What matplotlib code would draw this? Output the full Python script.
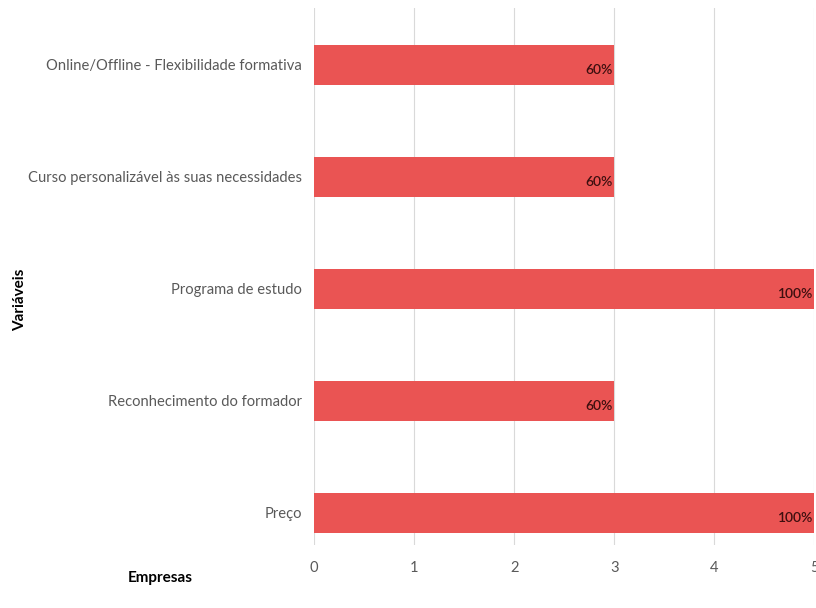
import matplotlib
matplotlib.use("Agg")
import matplotlib.pyplot as plt

categories = ["Preço", "Reconhecimento do formador", "Programa de estudo",
              "Curso personalizável às suas necessidades",
              "Online/Offline - Flexibilidade formativa"]
values = [5, 3, 5, 3, 3]
labels = ["100%", "60%", "100%", "60%", "60%"]
xticks = [0, 1, 2, 3, 4, 5]

plt.rcParams['font.family'] = ['Lato', 'DejaVu Sans']

fig = plt.figure(figsize=(8.16, 6.08), dpi=100)
ax = fig.add_axes([0.385, 0.104, 0.613, 0.883])

y = list(range(len(categories)))
bars = ax.barh(y, values, height=0.357, color="#EA5453", zorder=3)
for b, lab in zip(bars, labels):
    ax.text(b.get_width() - 0.015, b.get_y() + b.get_height() / 2 - 0.045, lab,
            ha="right", va="center", fontsize=10, color="#3d0f0f",
            fontweight="semibold", zorder=4)

ax.set_xlim(0, 5)
ax.set_ylim(-0.286, 4.509)
ax.set_xticks(xticks)
ax.set_yticks(y)
ax.set_yticklabels(categories)
ax.tick_params(axis="both", length=0, labelsize=10.6, colors="#595959")
ax.tick_params(axis="y", pad=9)
ax.tick_params(axis="x", pad=12)
ax.grid(axis="x", color="#d9d9d9", linewidth=0.8, zorder=0)
for s in ax.spines.values():
    s.set_visible(False)

fig.text(0.196, 0.049, "Empresas", ha="center", va="center", fontsize=11,
         fontweight="bold", color="#000000")
fig.text(0.025, 0.507, "Variáveis", ha="center", va="center", fontsize=11,
         fontweight="bold", rotation=90, color="#000000")

fig.savefig("out.png", dpi=100)
